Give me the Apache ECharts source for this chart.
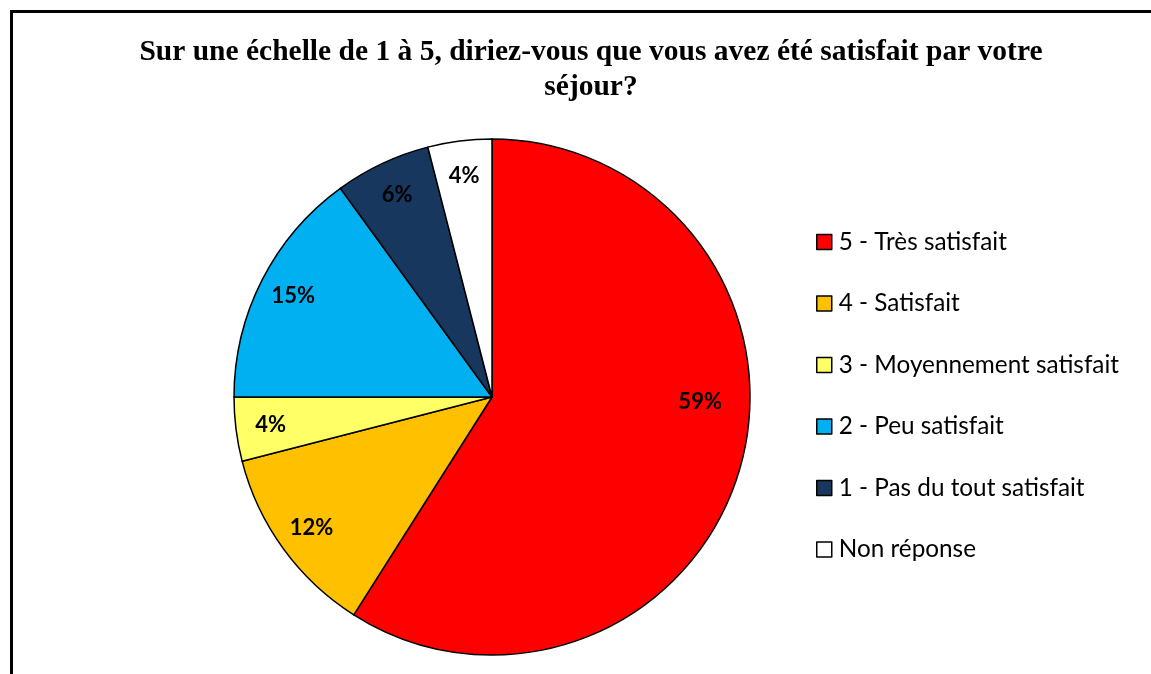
<!DOCTYPE html>
<html>
<head>
<meta charset="utf-8">
<script src="https://cdn.jsdelivr.net/npm/echarts@6/dist/echarts.min.js"></script>
<style>
  html, body { margin: 0; padding: 0; background: #fff; }
  #chart { width: 1151px; height: 674px; }
</style>
</head>
<body>
<div id="chart"></div>
<script>
// Réponses à la question de satisfaction (en %)
const categories = [
  '5 - Très satisfait',
  '4 - Satisfait',
  '3 - Moyennement satisfait',
  '2 - Peu satisfait',
  '1 - Pas du tout satisfait',
  'Non réponse'
];
const values = [59, 12, 4, 15, 6, 4];
const colors = ['#FF0000', '#FFC000', '#FFFF66', '#00B0F0', '#17375E', '#FFFFFF'];
const titleText = 'Sur une échelle de 1 à 5, diriez-vous que vous avez été satisfait par votre\nséjour?';

const chart = echarts.init(document.getElementById('chart'), null, { renderer: 'canvas' });

const center = [492, 397];
const R = 258;

const sliceData = categories.map((name, i) => ({
  name,
  value: values[i],
  itemStyle: { color: colors[i] }
}));

// Label ring: transparent copy of the pie whose mid-radius places the labels near the rim
const labelData = categories.map((name, i) => ({
  name,
  value: values[i],
  label: i === 0 ? { offset: [-6, -57] } : {}
}));

chart.setOption({
  animation: false,
  backgroundColor: '#fff',
  graphic: [{
    type: 'rect',
    left: 9,
    top: 9,
    shape: { width: 1170, height: 700 },
    style: { fill: 'none', stroke: '#000', lineWidth: 3 },
    silent: true
  }],
  title: {
    text: titleText,
    left: 586,
    textAlign: 'center',
    top: 30,
    textStyle: {
      fontFamily: 'Liberation Serif',
      fontWeight: 'bold',
      fontSize: 29.5,
      lineHeight: 35,
      color: '#000'
    }
  },
  legend: {
    orient: 'vertical',
    left: 811,
    top: 223,
    itemWidth: 15,
    itemHeight: 15,
    itemGap: 33.5,
    icon: 'rect',
    data: categories,
    itemStyle: { borderColor: '#000', borderWidth: 1.5 },
    textStyle: {
      fontFamily: 'Lato',
      fontSize: 24.3,
      lineHeight: 28,
      color: '#000',
      padding: [0, 0, 0, 2]
    }
  },
  series: [
    {
      type: 'pie',
      center,
      radius: [0, R],
      startAngle: 90,
      clockwise: true,
      data: sliceData,
      label: { show: false },
      labelLine: { show: false },
      itemStyle: { borderColor: '#000', borderWidth: 1.5 },
      emphasis: { disabled: true }
    },
    {
      type: 'pie',
      center,
      radius: [182, R],
      startAngle: 90,
      clockwise: true,
      silent: true,
      data: labelData,
      legendHoverLink: false,
      itemStyle: { color: 'rgba(0,0,0,0)', borderWidth: 0 },
      label: {
        show: true,
        position: 'inside',
        formatter: '{c}%',
        fontFamily: 'Lato',
        fontWeight: 'bold',
        fontSize: 22,
        color: '#000'
      },
      labelLine: { show: false },
      emphasis: { disabled: true }
    }
  ]
});
</script>
</body>
</html>
